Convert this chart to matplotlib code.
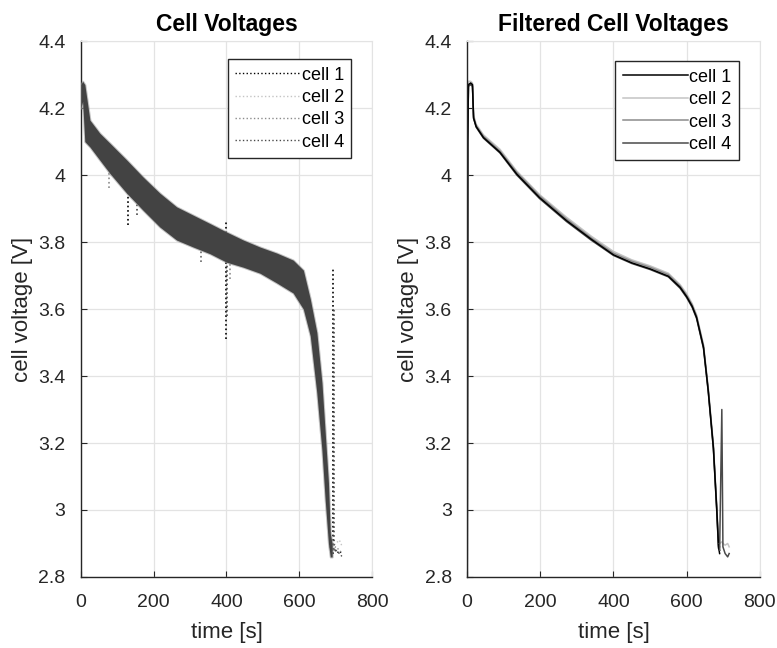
import numpy as np
import matplotlib
matplotlib.use("Agg")
import matplotlib.pyplot as plt

plt.rcParams['font.family'] = ['Liberation Sans', 'DejaVu Sans']

# --- raw cell voltages (left): band of the noisy traces
band_t = [0, 5, 11, 25, 52, 80, 126, 171, 217, 263, 309, 355, 400, 446, 492,
          538, 583, 611, 630, 648, 662, 671, 680, 685, 690]
band_lo = [4.20, 4.22, 4.10, 4.084, 4.045, 4.005, 3.946, 3.895, 3.845, 3.806,
           3.785, 3.765, 3.74, 3.725, 3.707, 3.678, 3.648, 3.60, 3.52, 3.35,
           3.18, 3.03, 2.90, 2.86, 2.86]
band_hi = [4.27, 4.28, 4.27, 4.164, 4.125, 4.095, 4.045, 3.994, 3.946, 3.905,
           3.880, 3.855, 3.83, 3.806, 3.785, 3.767, 3.746, 3.716, 3.63, 3.53,
           3.38, 3.23, 3.08, 2.93, 2.90]

raw_t = [0, 5, 11, 25, 52, 80, 126, 171, 217, 263, 309, 355, 400, 446, 492,
         538, 583, 611, 630, 648, 662, 671, 680, 685, 690, 700, 710, 718]
raw_cell1 = [4.24, 4.26, 4.19, 4.12, 4.08, 4.05, 3.99, 3.94, 3.89, 3.85, 3.83,
             3.81, 3.78, 3.76, 3.74, 3.72, 3.69, 3.65, 3.57, 3.43, 3.27, 3.12,
             2.98, 2.89, 2.87, 2.88, 2.87, 2.88]
raw_cell2 = [4.25, 4.27, 4.20, 4.13, 4.09, 4.06, 4.00, 3.95, 3.90, 3.86, 3.84,
             3.82, 3.79, 3.77, 3.75, 3.73, 3.70, 3.66, 3.58, 3.45, 3.29, 3.14,
             3.00, 2.90, 2.89, 2.90, 2.91, 2.89]
raw_cell3 = [4.23, 4.25, 4.18, 4.12, 4.08, 4.05, 3.99, 3.94, 3.90, 3.85, 3.84,
             3.81, 3.79, 3.76, 3.75, 3.72, 3.70, 3.66, 3.58, 3.44, 3.28, 3.13,
             2.99, 2.90, 2.88, 2.89, 2.88, 2.87]
raw_cell4 = [4.24, 4.26, 4.19, 4.13, 4.09, 4.05, 4.00, 3.95, 3.89, 3.86, 3.83,
             3.81, 3.78, 3.77, 3.74, 3.72, 3.69, 3.65, 3.57, 3.44, 3.28, 3.13,
             2.98, 2.89, 2.88, 2.88, 2.87, 2.86]

# drop-outs / spikes in the raw traces: time, low, high, cell index
spike_t = [77, 110, 130, 154, 330, 400, 402, 410, 692, 694]
spike_lo = [3.96, 3.97, 3.85, 3.88, 3.74, 3.51, 3.58, 3.69, 2.87, 2.88]
spike_hi = [4.05, 4.03, 3.95, 3.95, 3.82, 3.86, 3.75, 3.78, 3.72, 3.60]
spike_cell = [2, 0, 0, 3, 1, 0, 3, 2, 0, 3]

# --- filtered cell voltages (right)
filt_t = [0, 2, 4, 10, 15, 18, 25, 45, 90, 136, 198, 272, 340, 400, 450, 500,
          550, 582, 600, 615, 627, 646, 659, 673, 682, 687, 690]
filt_cell1 = [2.00, 4.10, 4.27, 4.275, 4.27, 4.17, 4.145, 4.112, 4.068, 4.003,
              3.933, 3.864, 3.808, 3.762, 3.738, 3.720, 3.698, 3.665, 3.637,
              3.608, 3.575, 3.485, 3.355, 3.185, 3.005, 2.890, 2.870]
filt_cell2 = [2.00, 4.12, 4.28, 4.28, 4.275, 4.18, 4.152, 4.120, 4.077, 4.012,
              3.942, 3.874, 3.817, 3.772, 3.747, 3.729, 3.707, 3.673, 3.646,
              3.616, 3.583, 3.493, 3.364, 3.195, 3.015, 2.905, 2.900]
filt_cell3 = [2.00, 4.11, 4.27, 4.27, 4.27, 4.175, 4.148, 4.116, 4.072, 4.008,
              3.938, 3.869, 3.812, 3.767, 3.743, 3.725, 3.703, 3.669, 3.641,
              3.612, 3.579, 3.490, 3.360, 3.190, 3.010, 2.895, 2.890]
filt_cell4 = [2.00, 4.10, 4.265, 4.27, 4.265, 4.17, 4.143, 4.110, 4.066, 4.000,
              3.930, 3.861, 3.805, 3.760, 3.736, 3.718, 3.696, 3.662, 3.634,
              3.605, 3.572, 3.482, 3.352, 3.182, 3.000, 2.885, 2.880]
tail_t = [690, 696, 699, 705, 712, 716]
tail_cell4 = [2.880, 3.300, 2.890, 2.870, 2.860, 2.870]
tail_cell2 = [2.900, 2.905, 2.900, 2.895, 2.900, 2.890]

labels = ['cell 1', 'cell 2', 'cell 3', 'cell 4']
colors = ['#000000', '#c4c4c4', '#8c8c8c', '#4a4a4a']

fig = plt.figure(figsize=(7.77, 6.48), dpi=100)
ax1 = fig.add_axes([0.104, 0.1096, 0.375, 0.827])
ax2 = fig.add_axes([0.601, 0.1096, 0.377, 0.827])


def style(ax, title):
    ax.set_xlim(0, 800)
    ax.set_ylim(2.8, 4.4)
    ax.set_xticks([0, 200, 400, 600, 800])
    ax.set_yticks([2.8, 3, 3.2, 3.4, 3.6, 3.8, 4, 4.2, 4.4])
    ax.set_yticklabels(['2.8', '3', '3.2', '3.4', '3.6', '3.8', '4', '4.2', '4.4'])
    ax.grid(True, color='#e3e3e3', lw=0.9)
    ax.set_axisbelow(True)
    ax.tick_params(direction='in', length=4, labelsize=14, colors='#262626',
                   top=False, right=False)
    ax.tick_params(axis='x', pad=12)
    ax.tick_params(axis='y', pad=11)
    for s in ['left', 'bottom']:
        ax.spines[s].set_color('#262626')
        ax.spines[s].set_linewidth(1.0)
    for s in ['top', 'right']:
        ax.spines[s].set_color('#e3e3e3')
    ax.set_xlabel('time [s]', fontsize=16, color='#262626', labelpad=8)
    ax.set_ylabel('cell voltage [V]', fontsize=16, color='#262626', labelpad=4)
    ax.set_title(title, fontsize=16.5, fontweight='bold', pad=7)


# left panel: traces first, the dense band on top of them
raw = [raw_cell1, raw_cell2, raw_cell3, raw_cell4]
for i in range(4):
    ax1.plot(raw_t, raw[i], ls=':', color=colors[i], lw=1.0, label=labels[i],
             zorder=2)
for t, lo, hi, c in zip(spike_t, spike_lo, spike_hi, spike_cell):
    ax1.vlines(t, lo, hi, colors=colors[c] if c != 1 else '#6a6a6a',
               linestyles=':', lw=1.2, zorder=2)
ax1.fill_between(band_t, band_lo, band_hi, color='#9a9a9a', lw=1.5, alpha=0.6,
                 zorder=3)
ax1.fill_between(band_t, band_lo, band_hi, color='#434343', lw=0, zorder=3)
style(ax1, 'Cell Voltages')
leg1 = ax1.legend(loc='upper right', bbox_to_anchor=(0.928, 0.966),
                  borderaxespad=0, fontsize=13, handlelength=3.6,
                  handletextpad=0.1, labelspacing=0.3, fancybox=False,
                  edgecolor='#262626', framealpha=1)
leg1.get_frame().set_linewidth(1.0)

# right panel
filt = [filt_cell1, filt_cell2, filt_cell3, filt_cell4]
for i in [1, 2, 3, 0]:
    ax2.plot(filt_t, filt[i], color=colors[i], lw=1.1)
ax2.plot(tail_t, tail_cell2, color=colors[1], lw=1.1)
ax2.plot(tail_t, tail_cell4, color=colors[3], lw=1.1)
handles = [plt.Line2D([], [], color=colors[i], lw=1.1) for i in range(4)]
style(ax2, 'Filtered Cell Voltages')
leg2 = ax2.legend(handles, labels, loc='upper right',
                  bbox_to_anchor=(0.928, 0.962), borderaxespad=0, fontsize=13,
                  handlelength=3.6, handletextpad=0.1, labelspacing=0.3,
                  fancybox=False, edgecolor='#262626', framealpha=1)
leg2.get_frame().set_linewidth(1.0)

fig.savefig('out.png', dpi=100)
